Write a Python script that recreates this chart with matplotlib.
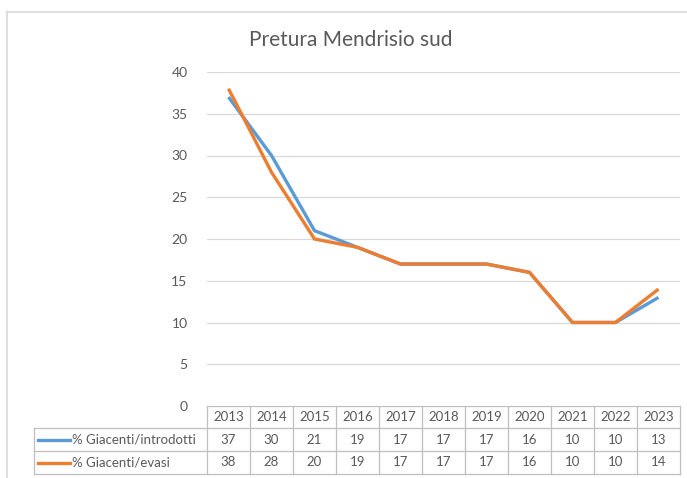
import matplotlib.pyplot as plt
from matplotlib.lines import Line2D

years = ["2013", "2014", "2015", "2016", "2017", "2018", "2019", "2020", "2021", "2022", "2023"]
giac_introdotti = [37, 30, 21, 19, 17, 17, 17, 16, 10, 10, 13]
giac_evasi = [38, 28, 20, 19, 17, 17, 17, 16, 10, 10, 14]
series_names = ["% Giacenti/introdotti", "% Giacenti/evasi"]
colors = ["#5B9BD5", "#ED7D31"]

W, H = 687, 478
plt.rcParams["font.family"] = ["Lato", "DejaVu Sans"]
text_color = "#595959"
grid_color = "#D9D9D9"

fig = plt.figure(figsize=(W / 100, H / 100), dpi=100)

# plot area in pixel units
px_left, px_right, px_top, px_bottom = 207, 680, 72, 406
ax = fig.add_axes([px_left / W, 1 - px_bottom / H, (px_right - px_left) / W, (px_bottom - px_top) / H])
x = list(range(len(years)))
ax.plot(x, giac_introdotti, color=colors[0], linewidth=2.4, solid_capstyle="butt")
ax.plot(x, giac_evasi, color=colors[1], linewidth=2.4, solid_capstyle="butt")
ax.set_xlim(-0.5, len(years) - 0.5)
ax.set_ylim(0, 40)
ax.set_yticks(range(0, 41, 5))
ax.set_xticks([])
ax.grid(axis="y", color=grid_color, linewidth=0.9)
ax.set_axisbelow(True)
for s in ["top", "right", "left", "bottom"]:
    ax.spines[s].set_visible(False)
ax.tick_params(axis="y", length=0, pad=14, labelsize=10, labelcolor=text_color)

# overlay for frame, title and data table (pixel coords)
ov = fig.add_axes([0, 0, 1, 1], zorder=-1)
ov.set_xlim(0, W)
ov.set_ylim(H, 0)
ov.axis("off")
ov.patch.set_alpha(0)

frame = "#D9D9D9"
ov.add_line(Line2D([7, 7], [12, H], color=frame, linewidth=1.2))
ov.add_line(Line2D([7, W], [12, 12], color=frame, linewidth=1.2))

ov.text(351, 40, "Pretura Mendrisio sud", ha="center", va="center", fontsize=15, color=text_color)

# data table
col_w = (px_right - px_left) / len(years)
row_y = [406, 428, 451, 474]
tcol = "#BFBFBF"
ov.add_line(Line2D([px_left, px_right], [row_y[0], row_y[0]], color=tcol, linewidth=0.9))
for y in row_y[1:]:
    ov.add_line(Line2D([34, px_right], [y, y], color=tcol, linewidth=0.9))
ov.add_line(Line2D([34, 34], [row_y[1], row_y[3]], color=tcol, linewidth=0.9))
for i in range(len(years) + 1):
    xb = px_left + i * col_w
    ov.add_line(Line2D([xb, xb], [row_y[0], row_y[3]], color=tcol, linewidth=0.9))

for i, yr in enumerate(years):
    cx = px_left + (i + 0.5) * col_w
    ov.text(cx, (row_y[0] + row_y[1]) / 2, yr, ha="center", va="center", fontsize=9.5, color=text_color)
    ov.text(cx, (row_y[1] + row_y[2]) / 2, str(giac_introdotti[i]), ha="center", va="center",
            fontsize=9.5, color=text_color)
    ov.text(cx, (row_y[2] + row_y[3]) / 2, str(giac_evasi[i]), ha="center", va="center",
            fontsize=9.5, color=text_color)

for r, (name, c) in enumerate(zip(series_names, colors)):
    cy = (row_y[r + 1] + row_y[r + 2]) / 2
    ov.add_line(Line2D([38, 70], [cy, cy], color=c, linewidth=2.4))
    ov.text(72, cy, name, ha="left", va="center", fontsize=9.5, color=text_color)

fig.savefig("out.png", dpi=100)
